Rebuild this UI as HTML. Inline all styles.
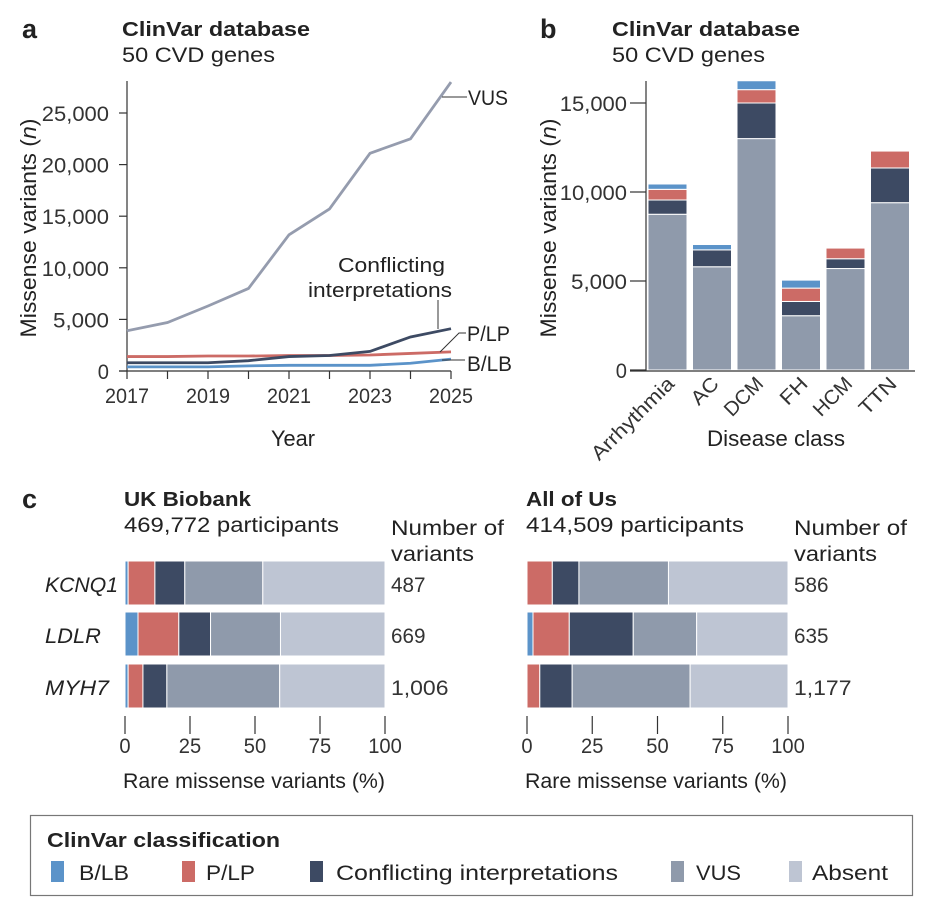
<!DOCTYPE html>
<html><head><meta charset="utf-8">
<style>
body{margin:0;background:#fff;}
svg{display:block;font-family:"Liberation Sans",sans-serif;}
</style></head>
<body>
<svg id="fig" width="940" height="910" viewBox="0 0 940 910">
<g id="pa"></g>
<g id="pb"></g>
<g id="pc"></g>
<g id="legend"></g>
</svg>
<script>
// ---- Panel a data ----
const years = [2017,2018,2019,2020,2021,2022,2023,2024,2025];
const vusSeries = [3900,4700,6300,8000,13200,15700,21100,22500,28000];
const conflSeries = [800,800,800,1000,1400,1500,1900,3300,4100];
const plpSeries = [1400,1400,1450,1450,1500,1500,1550,1700,1850];
const blbSeries = [400,400,400,500,550,550,550,750,1150];
const aYTicks = [0,5000,10000,15000,20000,25000];
const aXTicks = [2017,2019,2021,2023,2025];
// ---- Panel b data ----
const classes = ["Arrhythmia","AC","DCM","FH","HCM","TTN"];
const bVus = [8750,5800,13000,3050,5700,9400];
const bConf = [800,950,2000,800,550,1950];
const bPlp = [600,0,750,750,600,950];
const bBlb = [300,300,500,450,0,0];
const bYTicks = [0,5000,10000,15000];
// ---- Panel c data ----
const genes = ["KCNQ1","LDLR","MYH7"];
const ukBlb = [1.2,5,1.2];
const ukPlp = [10.3,15.7,5.7];
const ukConf = [11.5,12.2,9.2];
const ukVus = [30,26.9,43.4];
const ukAbsent = [47,40.2,40.5];
const ukCounts = ["487","669","1,006"];
const aouBlb = [0,2.3,0];
const aouPlp = [9.7,13.9,4.9];
const aouConf = [10.2,24.5,12.4];
const aouVus = [34.3,24.3,45.2];
const aouAbsent = [45.8,35,37.5];
const aouCounts = ["586","635","1,177"];
const cTicks = [0,25,50,75,100];

const C = {blb:"#5b93c9", plp:"#cc6b66", conf:"#3d4a63", vus:"#8f9aab", abs:"#bec5d3", line:"#333"};
const NS="http://www.w3.org/2000/svg";
function mk(parent, tag, attrs, text){
  const e=document.createElementNS(NS,tag);
  for(const k in attrs) e.setAttribute(k,attrs[k]);
  if(attrs.textLength) e.setAttribute('lengthAdjust','spacingAndGlyphs');
  if(text!==undefined) e.textContent=text;
  parent.appendChild(e); return e;
}
function fmt(v){return v.toLocaleString("en-US");}

// ===== Panel a =====
const pa=document.getElementById('pa');
const ax=y=>127+(y-2017)*(451-127)/8;
const ay=v=>371-v*258/25000;
let t;
t=mk(pa,'text',{x:22,y:38,'font-size':27,'font-weight':'bold',fill:'#222'},'a');

t=mk(pa,'text',{x:122,y:36,'font-size':20,'font-weight':'bold',fill:'#222',textLength:188},'ClinVar database');

t=mk(pa,'text',{x:122,y:62,'font-size':21,fill:'#222',textLength:153},'50 CVD genes');

let l=mk(pa,'line',{x1:127,y1:81,x2:127,y2:371,stroke:C.line,'stroke-width':1.2});

l=mk(pa,'line',{x1:119,y1:371,x2:451,y2:371,stroke:C.line,'stroke-width':1.2});

aYTicks.forEach(v=>{
  const tk=mk(pa,'line',{x1:119,y1:ay(v),x2:127,y2:ay(v),stroke:C.line,'stroke-width':1.2});
  
  const s=fmt(v);
  const tl=mk(pa,'text',{x:109,y:ay(v)+8,'font-size':21,'text-anchor':'end',fill:'#333',textLength:s.length*11.2},s);
  
});
years.forEach(y=>{
  const tk=mk(pa,'line',{x1:ax(y),y1:371,x2:ax(y),y2:379,stroke:C.line,'stroke-width':1.2});
  
});
aXTicks.forEach(y=>{
  const tl=mk(pa,'text',{x:ax(y),y:403,'font-size':21,'text-anchor':'middle',fill:'#333',textLength:44},String(y));
  
});
t=mk(pa,'text',{x:293,y:446,'font-size':22,'text-anchor':'middle',fill:'#222',textLength:44},'Year');

t=mk(pa,'text',{x:0,y:0,'font-size':22,'text-anchor':'middle',fill:'#222',textLength:219,transform:'translate(36,228) rotate(-90)'});

t.innerHTML='Missense variants (<tspan font-style="italic">n</tspan>)';
[[blbSeries,C.blb,'blb-line'],[plpSeries,C.plp,'plp-line'],[conflSeries,C.conf,'conflicting-line'],[vusSeries,'#959cae','vus-line']].forEach(([s,c,n])=>{
  const p=mk(pa,'polyline',{points:s.map((v,i)=>ax(years[i])+','+ay(v)).join(' '),fill:'none',stroke:c,'stroke-width':2.8});
  
});
function lead(d,n){const p=mk(pa,'path',{d:d,fill:'none',stroke:'#333','stroke-width':1});}
lead('M442,97 L467,97','vus-leader');
lead('M438,300 L438,329','conflicting-leader');
lead('M440,352 L459,333 L466,333','plp-leader');
lead('M442,360 L465,360','blb-leader');
t=mk(pa,'text',{x:468,y:105,'font-size':21,fill:'#222',textLength:40},'VUS');
t=mk(pa,'text',{x:467,y:341,'font-size':21,fill:'#222',textLength:43},'P/LP');
t=mk(pa,'text',{x:467,y:371,'font-size':21,fill:'#222',textLength:45},'B/LB');
t=mk(pa,'text',{x:338,y:272,'font-size':20,fill:'#222',textLength:107},'Conflicting');
t=mk(pa,'text',{x:308,y:297,'font-size':20,fill:'#222',textLength:144},'interpretations');

// ===== Panel b =====
const pb=document.getElementById('pb');
const by=v=>370-v*267/15000;
const bx=i=>648+i*44.5;
const bw=39;
t=mk(pb,'text',{x:540,y:38,'font-size':27,'font-weight':'bold',fill:'#222'},'b');
t=mk(pb,'text',{x:612,y:36,'font-size':20,'font-weight':'bold',fill:'#222',textLength:188},'ClinVar database');
t=mk(pb,'text',{x:612,y:62,'font-size':21,fill:'#222',textLength:153},'50 CVD genes');
const rotLen={Arrhythmia:108,AC:30,DCM:46,FH:30,HCM:46,TTN:44};
classes.forEach((c,i)=>{
  let base=0;
  [[bVus[i],C.vus,'vus'],[bConf[i],C.conf,'conflicting'],[bPlp[i],C.plp,'plp'],[bBlb[i],C.blb,'blb']].forEach(([v,col,n])=>{
    if(v<=0) return;
    const r=mk(pb,'rect',{x:bx(i),y:by(base+v),width:bw,height:by(base)-by(base+v),fill:col,stroke:'#fff','stroke-width':1});
    
    base+=v;
  });
  const tl=mk(pb,'text',{x:0,y:0,'font-size':20,'text-anchor':'end',fill:'#333',textLength:rotLen[c]||40,transform:`translate(${bx(i)+bw/2+8},385) rotate(-45)`},c);
  
});
l=mk(pb,'line',{x1:646,y1:81,x2:646,y2:371,stroke:C.line,'stroke-width':1.2});
l=mk(pb,'line',{x1:630,y1:371,x2:915,y2:371,stroke:C.line,'stroke-width':1.2});
bYTicks.forEach(v=>{
  const tk=mk(pb,'line',{x1:630,y1:by(v),x2:646,y2:by(v),stroke:C.line,'stroke-width':1.2});
  const s=fmt(v);
  const tl=mk(pb,'text',{x:627,y:by(v)+8,'font-size':21,'text-anchor':'end',fill:'#333',textLength:s.length*11.2},s);
});
t=mk(pb,'text',{x:707,y:446,'font-size':22,fill:'#222',textLength:138},'Disease class');
t=mk(pb,'text',{x:0,y:0,'font-size':22,'text-anchor':'middle',fill:'#222',textLength:219,transform:'translate(556,228) rotate(-90)'});

t.innerHTML='Missense variants (<tspan font-style="italic">n</tspan>)';

// ===== Panel c =====
const pc=document.getElementById('pc');
t=mk(pc,'text',{x:22,y:508,'font-size':27,'font-weight':'bold',fill:'#222'},'c');
const rowY=[561,612,664], rowH=44;
function cohort(x0,x1,title,sub,blb,plp,conf,vus,abs,counts,key,tw,sw){
  const sx=v=>x0+v*(x1-x0)/100;
  let tt=mk(pc,'text',{x:x0-1,y:506,'font-size':20,'font-weight':'bold',fill:'#222',textLength:tw},title);
  tt=mk(pc,'text',{x:x0-1,y:532,'font-size':21,fill:'#222',textLength:sw},sub);
  tt=mk(pc,'text',{x:x1+6,y:535,'font-size':21,fill:'#222',textLength:113},'Number of');
  tt=mk(pc,'text',{x:x1+6,y:561,'font-size':21,fill:'#222',textLength:83},'variants');
  genes.forEach((g,i)=>{
    let base=0;
    [[blb[i],C.blb,'blb'],[plp[i],C.plp,'plp'],[conf[i],C.conf,'conflicting'],[vus[i],C.vus,'vus'],[abs[i],C.abs,'absent']].forEach(([v,col,n])=>{
      if(v<=0) return;
      const r=mk(pc,'rect',{x:sx(base),y:rowY[i],width:sx(base+v)-sx(base),height:rowH,fill:col,stroke:'#fff','stroke-width':1});
      
      base+=v;
    });
    const ct=mk(pc,'text',{x:x1+6,y:rowY[i]+31,'font-size':21,fill:'#333',textLength:counts[i].length*11.5},counts[i]);
    
  });
  cTicks.forEach(v=>{
    const tk=mk(pc,'line',{x1:sx(v),y1:716,x2:sx(v),y2:734,stroke:C.line,'stroke-width':1.2});
    const s=String(v);
    const tl=mk(pc,'text',{x:sx(v),y:753,'font-size':21,'text-anchor':'middle',fill:'#333',textLength:s.length*11.2},s);
  });
  tt=mk(pc,'text',{x:x0-2,y:788,'font-size':21,fill:'#222',textLength:262},'Rare missense variants (%)');
}
const gw=[73,56,64];
genes.forEach((g,i)=>{
  const gt=mk(pc,'text',{x:45,y:rowY[i]+31,'font-size':21,'font-style':'italic',fill:'#222',textLength:gw[i]},g);
  
});
cohort(125,385,'UK Biobank','469,772 participants',ukBlb,ukPlp,ukConf,ukVus,ukAbsent,ukCounts,'uk-biobank',127,215);
cohort(527,788,'All of Us','414,509 participants',aouBlb,aouPlp,aouConf,aouVus,aouAbsent,aouCounts,'all-of-us',91,218);

// ===== Legend =====
const lg=document.getElementById('legend');
let r=mk(lg,'rect',{x:30.5,y:815.5,width:882,height:80,fill:'#fff',stroke:'#777','stroke-width':1.2});

t=mk(lg,'text',{x:47,y:847,'font-size':20,'font-weight':'bold',fill:'#222',textLength:233},'ClinVar classification');

[[51,79,50,'B/LB',C.blb],[182,206,49,'P/LP',C.plp],[310,336,282,'Conflicting interpretations',C.conf],[671,696,45,'VUS',C.vus],[789,812,76,'Absent',C.abs]].forEach(([x,tx0,w,lab,col])=>{
  const sw=mk(lg,'rect',{x:x,y:861,width:13,height:21,fill:col});
  
  const tx=mk(lg,'text',{x:tx0,y:880,'font-size':21,fill:'#222',textLength:w},lab);
  
});
</script>
</body></html>
